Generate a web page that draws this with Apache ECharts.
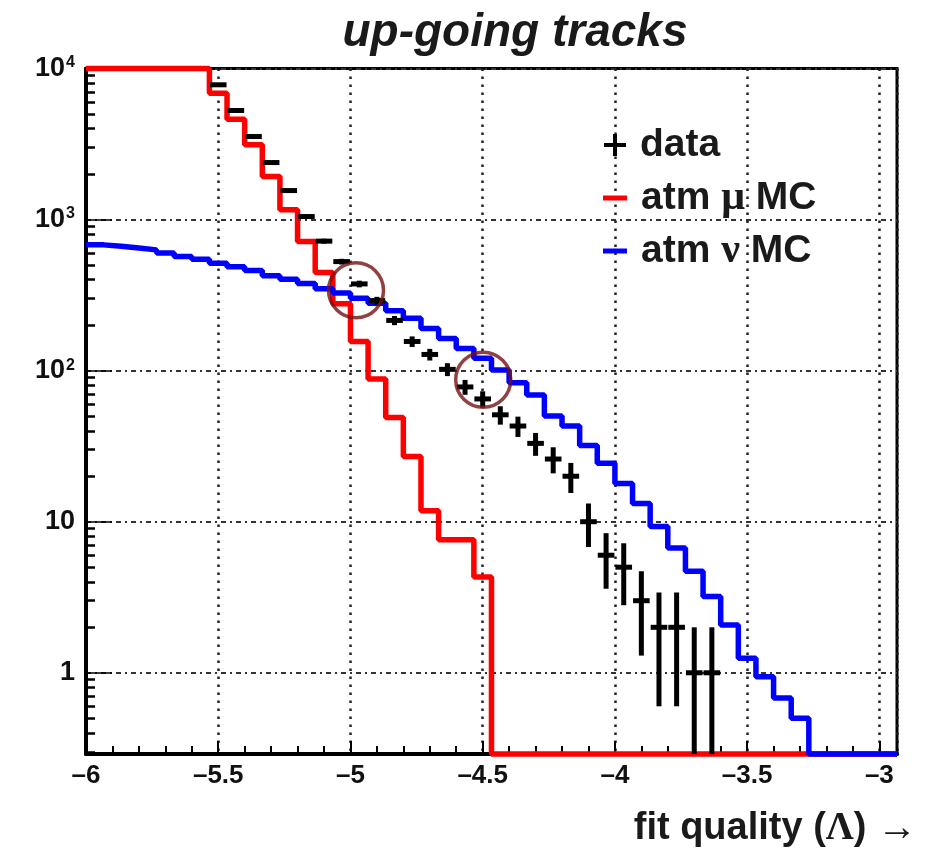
<!DOCTYPE html>
<html>
<head>
<meta charset="utf-8">
<script src="https://cdn.jsdelivr.net/npm/echarts@6/dist/echarts.min.js"></script>
<style>
html,body{margin:0;padding:0;background:#fff;}
#c{width:934px;height:848px;}
</style>
</head>
<body>
<div id="c"></div>
<script>
// ---- data ----
// histogram bin edges (46 bins of 1/15 in fit quality)
const binEdges = [-6.0000,-5.9333,-5.8667,-5.8000,-5.7333,-5.6667,-5.6000,-5.5333,-5.4667,-5.4000,
  -5.3333,-5.2667,-5.2000,-5.1333,-5.0667,-5.0000,-4.9333,-4.8667,-4.8000,-4.7333,
  -4.6667,-4.6000,-4.5333,-4.4667,-4.4000,-4.3333,-4.2667,-4.2000,-4.1333,-4.0667,
  -4.0000,-3.9333,-3.8667,-3.8000,-3.7333,-3.6667,-3.6000,-3.5333,-3.4667,-3.4000,
  -3.3333,-3.2667,-3.2000,-3.1333,-3.0667,-3.0000,-2.9333];

// atm mu MC (red)
const muValues = [10000,10000,10000,10000,10000,10000,10000,6870,4620,3125,
  1930,1160,715,447,277,156,88,49,27,11.8,
  7.6,7.6,4.3,0,0,0,0,0,0,0,
  0,0,0,0,0,0,0,0,0,0,
  0,0,0,0,0,0];

// atm nu MC (blue)
const nuValues = [680,665,648,630,600,570,547,514,488,460,
  424,402,378,349,326,302,279,249,222,190,
  163,140,121,101,83,69,50,43,32,24.4,
  17.9,13.2,9.3,6.7,4.7,3.2,2.07,1.25,0.94,0.68,
  0.5,0,0,0,0,0];

// data (black crosses) and their error bars
const dataValues = [null,null,null,null,null,null,null,7800,5270,3545,
  2385,1556,1047,720,527,375,291,215,156,128,
  102,78,65,51,43,33,26,20,10,6,
  5,3,2,2,1,1,null,null,null,null,
  null,null,null,null,null,null];
const dataErrors = [null,null,null,null,null,null,null,88,73,60,
  49,39,32,27,23,19,17,15,12.5,11.3,
  10,8.8,8,7.1,6.6,5.7,5.1,4.5,3.2,2.4,
  2.2,1.7,1.4,1.4,1,1,null,null,null,null,
  null,null,null,null,null,null];

// highlighted crossings (circles)
const circleMarks = [[-4.979, 340], [-4.498, 87]];

// tick labels
const xTickLabels = [-6,-5.5,-5,-4.5,-4,-3.5,-3];
const yTickLabels = [1,10,100,1000,10000];
const yMinorTicks = [0.3,0.4,0.5,0.6,0.7,0.8,0.9,2,3,4,5,6,7,8,9,20,30,40,50,60,70,80,90,
  200,300,400,500,600,700,800,900,2000,3000,4000,5000,6000,7000,8000,9000];

// ---- chart ----
const X_MIN = -6, X_MAX = -2.9333, Y_MIN = 0.29, Y_MAX = 10000;
const FONT = '"Liberation Sans", Arial, Helvetica, sans-serif';
const SERIF = '"Liberation Serif", "DejaVu Serif", serif';
const xMinorTicks = [];
for (let i = 1; i < 31; i++) { if (i % 5 !== 0) xMinorTicks.push(+(X_MIN + i * 0.1).toFixed(2)); }

const atBottom = v => Math.max(v, Y_MIN);
function stepData(vals) {
  const d = vals.map((v, i) => [binEdges[i], atBottom(v)]);
  d.push([binEdges[vals.length], atBottom(vals[vals.length - 1])]);
  return d;
}
const crossData = [];
dataValues.forEach((v, i) => {
  if (v != null) crossData.push([binEdges[i], binEdges[i + 1], v, dataErrors[i]]);
});

function xLabel(v) {
  for (const t of xTickLabels) if (Math.abs(t - v) < 1e-6) return '\u2013' + Math.abs(t);
  return '';
}
function yLabel(v) {
  for (const t of yTickLabels) {
    if (Math.abs(v - t) / t < 1e-6) {
      const e = Math.round(Math.log10(t));
      if (e === 0) return '{b|1}';
      if (e === 1) return '{b|10}';
      return '{b|10}{s|' + e + '}';
    }
  }
  return '';
}

const chart = echarts.init(document.getElementById('c'), null, {renderer: 'canvas'});
chart.setOption({
  animation: false,
  backgroundColor: '#fff',
  title: [
    {text: 'up-going tracks', left: 510, top: 5, textAlign: 'center',
     textStyle: {fontSize: 46, fontWeight: 'bold', fontStyle: 'italic', color: '#1a1a1a', fontFamily: FONT}},
    {text: '{a|fit quality (}{g|\u039B}{a|) }{r|\u2192}', right: 12, top: 802,
     textStyle: {rich: {
       a: {fontSize: 38, fontWeight: 'bold', color: '#1a1a1a', fontFamily: FONT, lineHeight: 44},
       g: {fontSize: 39, fontWeight: 'bold', color: '#1a1a1a', fontFamily: SERIF, lineHeight: 44},
       r: {fontSize: 40, fontWeight: 'normal', color: '#1a1a1a', fontFamily: SERIF, lineHeight: 44}
     }}}
  ],
  legend: [
    {data: [{name: 'data', icon: 'path://M9,0h4v9h9v4h-9v9h-4v-9h-9v-4h9z'}],
     left: 599, top: 119, itemWidth: 22, itemHeight: 22, selectedMode: false,
     textStyle: {fontSize: 39, fontWeight: 'bold', color: '#1a1a1a', fontFamily: FONT, lineHeight: 42, padding: [0, 0, 0, 9]}},
    {data: [{name: 'atm \u03BC MC', icon: 'rect'}, {name: 'atm \u03BD MC', icon: 'rect'}],
     orient: 'vertical', left: 598, top: 172, itemWidth: 24, itemHeight: 5, itemGap: 11, selectedMode: false,
     formatter: n => n.replace('\u03BC', '{g|\u03BC}').replace('\u03BD', '{g|\u03BD}'),
     textStyle: {fontSize: 39, fontWeight: 'bold', color: '#1a1a1a', fontFamily: FONT, lineHeight: 42, padding: [0, 0, 0, 9],
       rich: {g: {fontSize: 42, fontWeight: 'bold', color: '#1a1a1a', fontFamily: SERIF}}}}
  ],
  grid: {left: 86, right: 37, top: 68.5, bottom: 94, show: true, borderColor: '#000', borderWidth: 3, backgroundColor: 'transparent', containLabel: false},
  xAxis: [
    {type: 'value', min: X_MIN, max: X_MAX, interval: 0.5, position: 'bottom',
     axisLine: {show: true, onZero: false, lineStyle: {color: '#000', width: 4}},
     axisTick: {show: true, inside: true, length: 13, lineStyle: {color: '#000', width: 2}},
     axisLabel: {formatter: xLabel, margin: 9, color: '#111', fontSize: 26, fontWeight: 'bold', fontFamily: FONT, showMinLabel: true, showMaxLabel: true},
     splitLine: {show: true, lineStyle: {color: '#222', width: 2.5, type: [2.5, 5.5]}}},
    {type: 'value', min: X_MIN, max: X_MAX, position: 'bottom',
     axisLine: {show: false},
     axisTick: {show: true, inside: true, length: 8, customValues: xMinorTicks, lineStyle: {color: '#000', width: 2}},
     axisLabel: {show: false}, splitLine: {show: false}}
  ],
  yAxis: [
    {type: 'log', logBase: 10, min: Y_MIN, max: Y_MAX, position: 'left',
     axisLine: {show: true, onZero: false, lineStyle: {color: '#000', width: 4}},
     axisTick: {show: true, inside: true, length: 26, lineStyle: {color: '#000', width: 1.5}},
     axisLabel: {formatter: yLabel, margin: 11, showMinLabel: true, showMaxLabel: true,
       rich: {
         b: {fontSize: 27, fontWeight: 'bold', color: '#111', fontFamily: FONT},
         s: {fontSize: 16, fontWeight: 'bold', color: '#111', fontFamily: FONT, verticalAlign: 'top', padding: [0, 0, 0, 1]}
       }},
     splitLine: {show: true, lineStyle: {color: '#333', width: 2, type: [5, 4, 2, 4]}}},
    {type: 'log', logBase: 10, min: Y_MIN, max: Y_MAX, position: 'left',
     axisLine: {show: false},
     axisTick: {show: true, inside: true, length: 9, customValues: yMinorTicks, lineStyle: {color: '#000', width: 2.5}},
     axisLabel: {show: false}, splitLine: {show: false}}
  ],
  series: [
    {name: 'atm \u03BC MC', type: 'line', step: 'end', data: stepData(muValues), symbol: 'none', clip: false,
     xAxisIndex: 0, yAxisIndex: 0, z: 3,
     itemStyle: {color: '#ff0000'}, lineStyle: {color: '#ff0000', width: 5.5}},
    {name: 'atm \u03BD MC', type: 'line', step: 'end', data: stepData(nuValues), symbol: 'none', clip: false,
     xAxisIndex: 0, yAxisIndex: 0, z: 4,
     itemStyle: {color: '#0000ff'}, lineStyle: {color: '#0000ff', width: 5.5}},
    {name: 'data', type: 'custom', data: crossData, xAxisIndex: 0, yAxisIndex: 0, z: 5,
     itemStyle: {color: '#000'},
     encode: {x: [0, 1], y: 2},
     renderItem: function (params, api) {
       const lo = api.value(0), hi = api.value(1), v = api.value(2), e = api.value(3);
       const mid = (lo + hi) / 2;
       const pL = api.coord([lo, v]), pR = api.coord([hi, v]);
       const pT = api.coord([mid, Math.min(v + e, Y_MAX)]);
       const pB = api.coord([mid, Math.max(v - e, Y_MIN)]);
       const st = {stroke: '#000', lineWidth: 5};
       return {type: 'group', children: [
         {type: 'line', shape: {x1: pL[0] + 0.5, y1: pL[1], x2: pR[0] - 0.5, y2: pR[1]}, style: st},
         {type: 'line', shape: {x1: pT[0], y1: pT[1], x2: pB[0], y2: pB[1]}, style: st}
       ]};
     }},
    {name: 'circles', type: 'scatter', data: circleMarks, xAxisIndex: 0, yAxisIndex: 0, z: 6,
     symbol: 'circle', symbolSize: 55, silent: true,
     itemStyle: {color: 'rgba(0,0,0,0)', borderColor: '#741212', borderWidth: 3.5}}
  ]
});
</script>
</body>
</html>
